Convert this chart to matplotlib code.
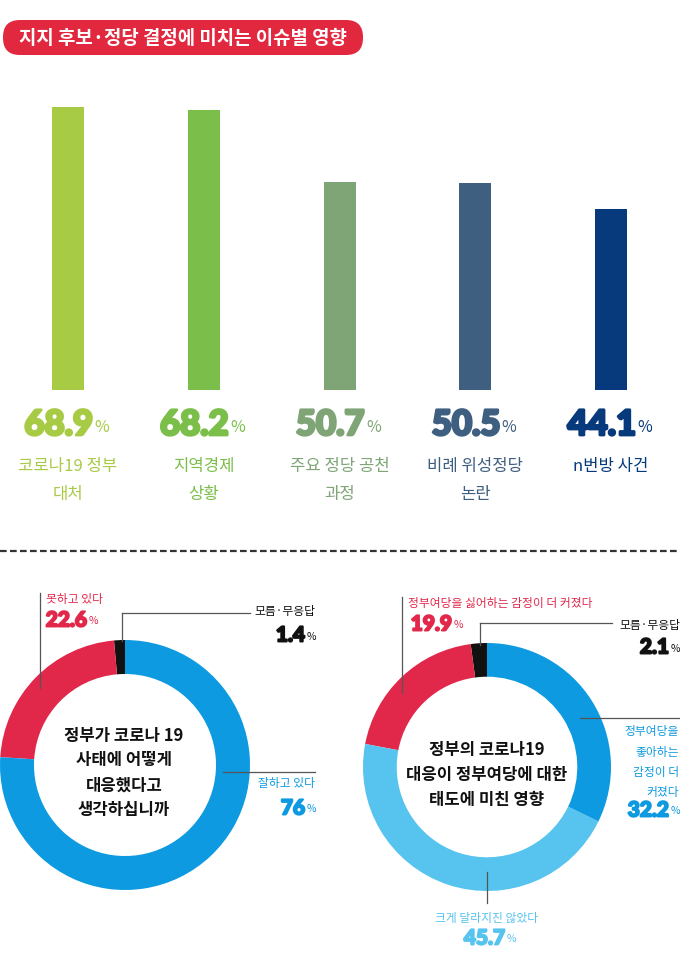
import matplotlib
matplotlib.use("Agg")
import matplotlib.pyplot as plt
from matplotlib.patches import FancyBboxPatch
import matplotlib.patheffects as pe

plt.rcParams['font.family'] = ['Noto Sans CJK KR', 'DejaVu Sans']

W, H = 680, 959

# ---------------- data ----------------
title = "지지 후보·정당 결정에 미치는 이슈별 영향"
bar_labels = ["코로나19 정부\n대처", "지역경제\n상황", "주요 정당 공천\n과정", "비례 위성정당\n논란", "n번방 사건"]
bar_values = [68.9, 68.2, 50.7, 50.5, 44.1]
bar_colors = ["#A8CB45", "#7BBF4A", "#7FA577", "#3F5F80", "#073A7D"]

d1_title = "정부가 코로나 19\n사태에 어떻게\n대응했다고\n생각하십니까"
d1_labels = ["모름·무응답", "못하고 있다", "잘하고 있다"]
d1_values = [1.4, 22.6, 76]
d1_colors = ["#111111", "#E1284B", "#0E9AE0"]

d2_title = "정부의 코로나19\n대응이 정부여당에 대한\n태도에 미친 영향"
d2_labels = ["모름·무응답", "정부여당을 싫어하는 감정이 더 커졌다", "크게 달라지진 않았다", "정부여당을\n좋아하는\n감정이 더\n커졌다"]
d2_values = [2.1, 19.9, 45.7, 32.2]
d2_colors = ["#111111", "#E1284B", "#57C3EF", "#0E9AE0"]

fig = plt.figure(figsize=(W / 100, H / 100), dpi=100)
fig.patch.set_facecolor("white")


def px_axes(x0, y0, x1, y1, **kw):
    return fig.add_axes([x0 / W, 1 - y1 / H, (x1 - x0) / W, (y1 - y0) / H], **kw)


# ---------------- bar chart ----------------
scale = 283 / 68.9  # px per percent
top_px = 390 - 80 * scale
axb = px_axes(0, top_px, W, 390)
xs = list(range(len(bar_values)))
axb.bar(xs, bar_values, width=32 / 135.75, color=bar_colors)
axb.set_xlim(-68 / 135.75, (W - 68) / 135.75)
axb.set_ylim(0, 80)
axb.axis("off")

# ---------------- overlay ----------------
ov = fig.add_axes([0, 0, 1, 1], zorder=10)
ov.set_xlim(0, W)
ov.set_ylim(H, 0)
ov.axis("off")
ov.patch.set_alpha(0)

# title pill
pill = FancyBboxPatch((3, 20), 360, 35, boxstyle="round,pad=0,rounding_size=17",
                      facecolor="#E1283F", edgecolor="none")
ov.add_patch(pill)
ov.text(183, 38.5, title, color="white", fontsize=13.6, fontweight="bold",
        ha="center", va="center")

NUMFONT = ['Lato', 'Noto Sans CJK KR', 'DejaVu Sans']


def pct(x_end, y, num, color, size, psize, stroke=1.2):
    ov.text(x_end, y, num, color=color, fontsize=size, fontweight="black",
            family=NUMFONT, ha="right", va="center",
            path_effects=[pe.withStroke(linewidth=stroke, foreground=color)])
    ov.text(x_end + 1.5, y + size * 0.10, "%", color=color, fontsize=psize,
            fontweight="light", ha="left", va="center")


def bar_px(i):
    return 68 + i * 135.75


for i, (v, lab, c) in enumerate(zip(bar_values, bar_labels, bar_colors)):
    cx = bar_px(i)
    pct(cx + 25, 425, f"{v}", c, 25, 11.5, stroke=2.0)
    for k, line in enumerate(lab.split("\n")):
        ov.text(cx, 467 + 28 * k, line, color=c, fontsize=12, fontweight="light",
                ha="center", va="center")

# dashed separator
ov.plot([0, W], [551, 551], color="#333333", lw=1.6, ls=(0, (3, 1.5)))


# ---------------- donuts ----------------
def donut(x0, y0, x1, y1, vals, cols):
    ax = px_axes(x0, y0, x1, y1)
    ax.pie(vals, colors=cols, startangle=90, counterclock=True, radius=1,
           wedgeprops=dict(width=34 / 125, edgecolor="none"))
    ax.set_xlim(-1, 1)
    ax.set_ylim(-1, 1)
    ax.set_aspect("equal")
    ax.axis("off")
    return ax


donut(0, 640, 250, 890, d1_values, d1_colors)
donut(363, 643, 611, 891, d2_values, d2_colors)

lc = "#555555"
lw = 0.9
# donut 1 centre text
ov.text(124, 773, d1_title, fontsize=12, fontweight="bold", color="#111111",
        ha="center", va="center", linespacing=1.5)
# donut 1 labels
ov.plot([40, 40], [593, 688], color=lc, lw=lw)
ov.text(46, 600, d1_labels[1], color=d1_colors[1], fontsize=8.5, ha="left", va="center")
pct(87, 620, f"{d1_values[1]}", d1_colors[1], 15, 7.5, stroke=1.4)

ov.plot([122, 250], [613, 613], color=lc, lw=lw)
ov.plot([122, 122], [613, 641], color=lc, lw=lw)
ov.text(315, 612, d1_labels[0], color="#111111", fontsize=8.5, ha="right", va="center")
pct(305, 635, f"{d1_values[0]}", "#111111", 15, 7.5, stroke=1.4)

ov.plot([223, 315], [772, 772], color=lc, lw=lw)
ov.text(315, 784, d1_labels[2], color=d1_colors[2], fontsize=8.5, ha="right", va="center")
pct(305, 808, f"{d1_values[2]}", d1_colors[2], 15, 7.5, stroke=1.4)

# donut 2 centre text
ov.text(487, 775, d2_title, fontsize=12, fontweight="bold", color="#111111",
        ha="center", va="center", linespacing=1.5)
# donut 2 labels
ov.plot([402, 402], [597, 693], color=lc, lw=lw)
ov.text(408, 603, d2_labels[1], color=d2_colors[1], fontsize=8.5, ha="left", va="center")
pct(452, 624, f"{d2_values[1]}", d2_colors[1], 15, 7.5, stroke=1.4)

ov.plot([480, 612], [623, 623], color=lc, lw=lw)
ov.plot([480, 480], [623, 645], color=lc, lw=lw)
ov.text(680, 625, d2_labels[0], color="#111111", fontsize=8.5, ha="right", va="center")
pct(669, 647, f"{d2_values[0]}", "#111111", 15, 7.5, stroke=1.4)

ov.plot([580, 680], [718, 718], color=lc, lw=lw)
for k, line in enumerate(d2_labels[3].split("\n")):
    ov.text(679, 732 + 20.3 * k, line, color=d2_colors[3], fontsize=8.5,
            ha="right", va="center")
pct(669, 810, f"{d2_values[3]}", d2_colors[3], 15, 7.5, stroke=1.4)

ov.plot([487, 487], [872, 903], color=lc, lw=lw)
ov.text(487, 918, d2_labels[2], color=d2_colors[2], fontsize=8.5, ha="center", va="center")
pct(505, 938, f"{d2_values[2]}", d2_colors[2], 15, 7.5, stroke=1.4)

fig.savefig("out.png", dpi=100, facecolor="white")
